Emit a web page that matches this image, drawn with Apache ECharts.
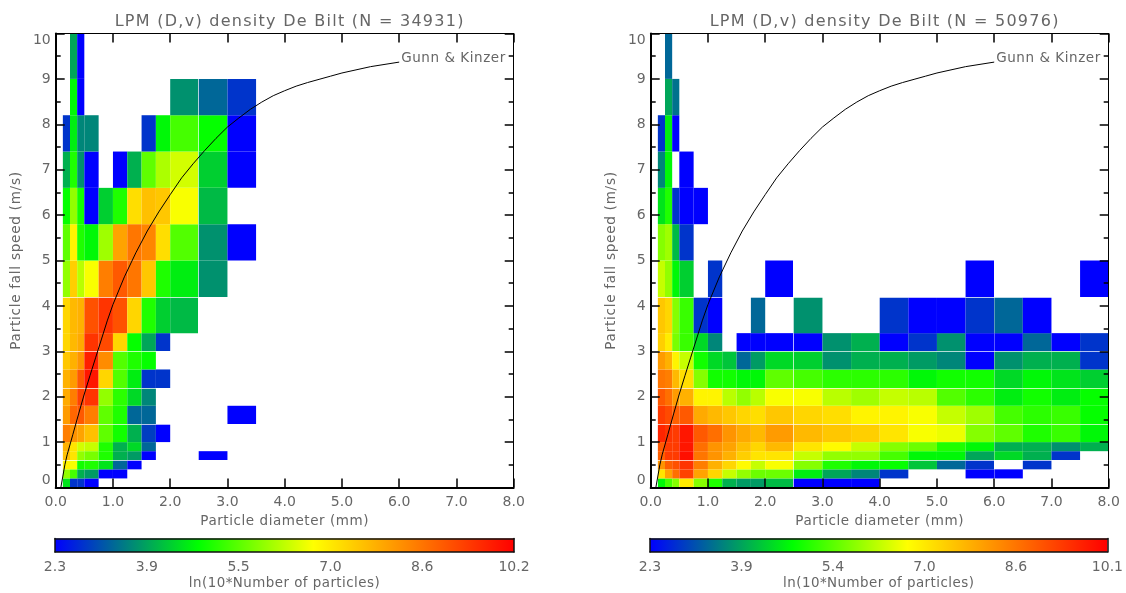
<!DOCTYPE html>
<html><head><meta charset="utf-8">
<style>html,body{margin:0;padding:0;background:#fff}#c{width:1126px;height:593px}</style>
<script src="https://cdn.jsdelivr.net/npm/echarts@6/dist/echarts.min.js"></script>
</head><body><div id="c"></div>
<script>
const _ = null;
const diameterEdges = [0.125,0.25,0.375,0.5,0.75,1,1.25,1.5,1.75,2,2.5,3,3.5,4,4.5,5,5.5,6,6.5,7,7.5,8];
const speedEdges = [0,0.2,0.4,0.6,0.8,1,1.4,1.8,2.2,2.6,3,3.4,4.2,5,5.8,6.6,7.4,8.2,9,10];
// ln(10*N) per speed bin (bottom row first), per diameter bin
const leftDensity = [
 [4.5,2.8,2.8,2.3],
 [5.9,5.3,4.0,3.8,2.3,2.3],
 [6.9,6.7,4.9,5.0,4.5,3.3,2.3],
 [7.6,7.1,5.9,5.7,5.0,4.0,3.8,2.3,_,_,2.3],
 [7.8,7.1,6.4,6.3,5.0,4.0,4.4,3.3],
 [8.5,8.2,8.0,7.6,5.5,4.9,4.0,2.9,2.3],
 [8.1,8.8,9.0,8.5,5.5,5.0,3.3,3.3,_,_,_,2.3],
 [7.9,8.5,9.3,9.5,5.9,5.1,4.4,3.6],
 [7.8,8.1,9.0,9.9,7.3,5.4,4.6,2.8,2.8],
 [7.5,7.8,8.2,9.8,8.3,5.4,5.0,4.8],
 [7.3,7.7,7.9,9.5,9.2,7.3,4.8,3.9,2.8],
 [7.3,7.7,7.8,9.1,9.5,9.1,7.3,5.0,4.3,4.1],
 [5.9,7.4,6.2,6.7,8.5,9.0,8.6,7.5,5.0,4.6,3.7],
 [5.5,6.9,5.0,4.7,6.0,8.0,8.6,8.4,7.2,5.4,3.7,2.3],
 [4.8,5.9,4.9,2.3,4.3,5.0,7.2,7.6,7.5,6.7,4.1],
 [4.0,5.0,3.7,2.3,_,2.3,4.0,5.5,6.1,6.4,4.3,2.3],
 [2.8,4.6,3.6,3.6,_,_,_,2.8,4.7,5.3,4.8,2.3],
 [_,4.7,2.3,_,_,_,_,_,_,3.7,3.3,2.8],
 [_,3.9,2.3]
];
const rightDensity = [
 [4.7,5.3,5.8,7.0,5.8,5.0,4.0,3.8,3.8,4.1,2.3,2.3,2.3],
 [7.1,8.0,8.7,9.3,8.0,7.3,6.3,5.9,5.6,5.6,4.6,3.9,3.6,2.8,_,_,2.3,2.3],
 [8.2,8.9,9.1,9.5,8.5,7.8,7.3,6.8,6.3,6.7,5.8,5.0,4.7,4.8,4.2,3.3,2.8,_,2.8],
 [8.9,9.4,9.4,10.0,8.6,8.2,7.8,7.4,7.1,7.1,6.3,5.9,5.9,5.3,4.7,4.7,3.9,4.4,4.0,2.8],
 [9.0,9.4,9.4,9.9,8.7,8.2,8.0,7.6,7.3,7.7,7.1,6.8,6.3,5.8,5.6,5.0,4.7,4.0,4.0,3.7,4.0],
 [9.7,9.5,9.4,9.9,9.0,8.7,8.2,7.9,7.7,8.1,7.7,7.5,7.4,7.1,6.7,6.6,5.8,5.5,5.0,5.2,4.7],
 [9.4,9.2,8.9,9.0,7.9,7.7,7.5,7.3,7.2,7.5,7.3,7.2,6.9,6.9,6.7,6.3,6.0,5.3,5.1,5.2,4.8],
 [9.0,8.7,8.1,7.8,6.9,6.9,6.2,5.9,6.2,6.7,6.7,6.2,6.0,6.3,6.2,5.4,5.1,4.6,4.9,4.6,4.8],
 [8.6,8.5,7.7,7.2,5.8,4.9,4.9,4.7,4.7,5.5,5.3,5.1,5.1,5.1,4.7,4.9,4.9,4.4,4.7,4.5,4.3],
 [8.1,7.8,6.9,6.3,4.9,4.4,4.2,3.3,3.8,4.4,4.3,3.7,4.0,4.0,3.8,3.6,2.3,3.7,4.0,4.0,2.8],
 [7.4,7.0,5.7,5.2,4.4,3.6,_,2.3,2.3,2.3,2.3,3.7,4.0,2.3,2.8,3.7,2.3,2.3,3.3,2.3,2.8],
 [7.5,7.3,5.8,5.2,2.8,2.3,_,_,3.3,_,3.7,_,_,2.8,2.3,2.3,2.8,3.3,2.3],
 [6.3,5.9,4.7,4.3,_,2.8,_,_,_,2.3,_,_,_,_,_,_,2.3,_,_,_,2.3],
 [5.8,6.0,4.1,2.8],
 [4.5,5.0,2.8,2.3,2.3],
 [3.6,4.7,_,2.3],
 [2.8,4.6,2.3],
 [_,3.9,3.4],
 [_,3.3]
];
const curveDiameter = [0.09,0.16,0.2,0.3,0.4,0.5,0.6,0.7,0.8,0.9,1,1.2,1.4,1.6,1.8,2,2.2,2.4,2.6,2.8,3,3.2,3.4,3.6,3.8,4,4.2,4.4,4.6,4.8,5,5.5,6];
const curveSpeed = [0,0.5,0.72,1.17,1.62,2.06,2.47,2.87,3.27,3.67,4.03,4.64,5.17,5.65,6.07,6.45,6.82,7.13,7.42,7.69,7.94,8.14,8.33,8.49,8.63,8.74,8.84,8.92,8.99,9.06,9.13,9.27,9.37];
const barLabelsLeft = ['2.3','3.9','5.5','7.0','8.6','10.2'];
const barLabelsRight = ['2.3','3.9','5.4','7.0','8.6','10.1'];
const titleLeft = 'LPM (D,v) density De Bilt (N = 34931)';
const titleRight = 'LPM (D,v) density De Bilt (N = 50976)';
const colorStops = [[0,[0,0,255]],[0.312,[0,255,0]],[0.563,[255,255,0]],[1,[255,0,0]]];

// The reference lettering is widely tracked: apply canvas letter spacing by font size.
const trackingBySize = {16:1.27,13.5:0.56,13.6:0.72,13.4:0.47};
(function(){
  const P = CanvasRenderingContext2D.prototype, d = Object.getOwnPropertyDescriptor(P,'font');
  Object.defineProperty(P,'font',{configurable:true,get(){return d.get.call(this);},set(v){
    d.set.call(this,v);
    const m=/([\d.]+)px/.exec(v), t=m&&trackingBySize[parseFloat(m[1])];
    if('letterSpacing' in this) this.letterSpacing=(t||0)+'px';
  }});
})();

const FONT = 'DejaVu Sans', INK = '#666';
// rows and columns where the reference shows a pale one-pixel seam between cells
const seamSpeeds = [0.6,1.4,2.2,3,4.2];
const seamDiameters = {2.5:0.7,6:0.35};
function colorAt(t){
  t = Math.max(0,Math.min(1,t));
  for(let i=1;i<colorStops.length;i++){
    if(t<=colorStops[i][0]){
      const a=colorStops[i-1], b=colorStops[i], f=(t-a[0])/(b[0]-a[0]);
      return 'rgb('+a[1].map((c,k)=>Math.round(c+(b[1][k]-c)*f)).join(',')+')';
    }
  }
  return 'rgb(255,0,0)';
}
function cells(table){
  const out=[];
  table.forEach((row,r)=>row.forEach((val,c)=>{
    if(val!==null&&val!==undefined) out.push([diameterEdges[c],diameterEdges[c+1],speedEdges[r],speedEdges[r+1],val]);
  }));
  return out;
}
const grids=[], xAxes=[], yAxes=[], series=[], titles=[];
function addPanel(opt){
  const gi=grids.length;
  grids.push({left:opt.left,top:33.5,width:458,height:454});
  const xa=xAxes.length, ya=yAxes.length;
  const tickLine=(len)=>({show:true,inside:true,length:len,lineStyle:{color:'#000',width:1.5}});
  const mk=(pos,lw,labels,name)=>({
    type:'value',gridIndex:gi,position:pos,min:0,max:8,interval:1,z:10,
    axisLine:{show:true,onZero:false,lineStyle:{color:'#000',width:lw}},
    axisTick:tickLine(9),splitLine:{show:false},
    axisLabel:{show:labels,margin:8,fontFamily:FONT,fontSize:14,color:INK,formatter:v=>v.toFixed(1)},
    name:name||'',nameLocation:'middle',nameGap:24,nameTextStyle:{fontFamily:FONT,fontSize:13.5,color:INK}
  });
  xAxes.push(mk('bottom',2,true,'Particle diameter (mm)'),mk('top',1,false));
  const mky=(pos,lw,labels,name)=>({
    type:'value',gridIndex:gi,position:pos,min:0,max:10,interval:1,z:10,
    axisLine:{show:true,onZero:false,lineStyle:{color:'#000',width:lw}},
    axisTick:tickLine(9),minorTick:{show:true,splitNumber:2,length:5,lineStyle:{color:'#000',width:1.5}},splitLine:{show:false},
    axisLabel:{show:labels,margin:5,fontFamily:FONT,fontSize:14,color:INK,verticalAlignMinLabel:'bottom',verticalAlignMaxLabel:'top'},
    name:name||'',nameLocation:'middle',nameGap:32,nameTextStyle:{fontFamily:FONT,fontSize:13.6,color:INK}
  });
  yAxes.push(mky('left',2,true,'Particle fall speed (m/s)'),mky('right',1,false));
  series.push({
    type:'custom',xAxisIndex:xa,yAxisIndex:ya,z:1,silent:true,clip:false,
    encode:{x:[0,1],y:[2,3]},data:cells(opt.table),
    renderItem(p,api){
      const d0=api.value(0), d1=api.value(1), v0=api.value(2), v1=api.value(3);
      const a=api.coord([d0,v1]), b=api.coord([d1,v0]);
      let x0=a[0], x1=b[0], y0=a[1], y1=b[1];
      if(seamSpeeds.includes(v1)){ y0=Math.round(y0)+0.7; }
      if(seamSpeeds.includes(v0)){ y1=Math.round(y1); }
      if(seamDiameters[d0]){ x0=Math.floor(x0)+seamDiameters[d0]; }
      if(seamDiameters[d1]){ x1=Math.floor(x1); }
      return {type:'rect',shape:{x:x0,y:y0,width:x1-x0,height:y1-y0},
        style:{fill:colorAt((api.value(4)-2.3)/(10.2-2.3))}};
    }
  });
  series.push({
    type:'line',xAxisIndex:xa,yAxisIndex:ya,z:3,silent:true,symbol:'none',showSymbol:false,
    lineStyle:{color:'#000',width:1},
    data:curveDiameter.map((d,i)=>[d,curveSpeed[i]]),
    endLabel:{show:true,formatter:'Gunn & Kinzer',fontFamily:FONT,fontSize:13.5,color:INK,distance:2,offset:[0,-4]}
  });
  titles.push({text:opt.title,left:opt.left+229,top:8.5,textAlign:'center',
    textStyle:{fontFamily:FONT,fontSize:16,fontWeight:'normal',color:INK}});
  // colour bar
  const gb=grids.length;
  grids.push({left:opt.left-0.7,top:538.5,width:459,height:13.5});
  const xb=xAxes.length,yb=yAxes.length;
  xAxes.push({type:'category',gridIndex:gb,data:opt.labels,boundaryGap:false,position:'bottom',z:10,
    axisLine:{show:true,onZero:false,lineStyle:{color:'#111',width:1.5}},axisTick:{show:false},splitLine:{show:false},
    axisLabel:{show:true,margin:8,fontFamily:FONT,fontSize:14,color:INK,interval:0,hideOverlap:false,alignMinLabel:'center',alignMaxLabel:'center'},
    name:'ln(10*Number of particles)',nameLocation:'middle',nameGap:25,nameTextStyle:{fontFamily:FONT,fontSize:13.4,color:INK}});
  xAxes.push({type:'category',gridIndex:gb,data:opt.labels,boundaryGap:false,position:'top',z:10,
    axisLine:{show:true,onZero:false,lineStyle:{color:'#111',width:1.5}},axisTick:{show:false},axisLabel:{show:false},splitLine:{show:false}});
  const by=(pos)=>({type:'value',gridIndex:gb,position:pos,min:0,max:1,z:10,
    axisLine:{show:true,onZero:false,lineStyle:{color:'#111',width:1.5}},axisTick:{show:false},axisLabel:{show:false},splitLine:{show:false}});
  yAxes.push(by('left'),by('right'));
  series.push({type:'custom',xAxisIndex:xb,yAxisIndex:yb,z:1,silent:true,clip:false,
    data:[[0,0,opt.labels.length-1,1]],encode:{x:[0,2],y:[1,3]},
    renderItem(p,api){
      const a=api.coord([api.value(0),api.value(3)]), b=api.coord([api.value(2),api.value(1)]);
      return {type:'rect',shape:{x:a[0],y:a[1],width:b[0]-a[0],height:b[1]-a[1]},
        style:{fill:new echarts.graphic.LinearGradient(0,0,1,0,colorStops.map(s=>({offset:s[0],color:'rgb('+s[1].join(',')+')'})))}};
    }});
}
addPanel({left:55.7,table:leftDensity,labels:barLabelsLeft,title:titleLeft});
addPanel({left:650.7,table:rightDensity,labels:barLabelsRight,title:titleRight});
const chart=echarts.init(document.getElementById('c'),null,{renderer:'canvas',width:1126,height:593});
chart.setOption({animation:false,backgroundColor:'#fff',title:titles,grid:grids,xAxis:xAxes,yAxis:yAxes,series});
</script></body></html>
